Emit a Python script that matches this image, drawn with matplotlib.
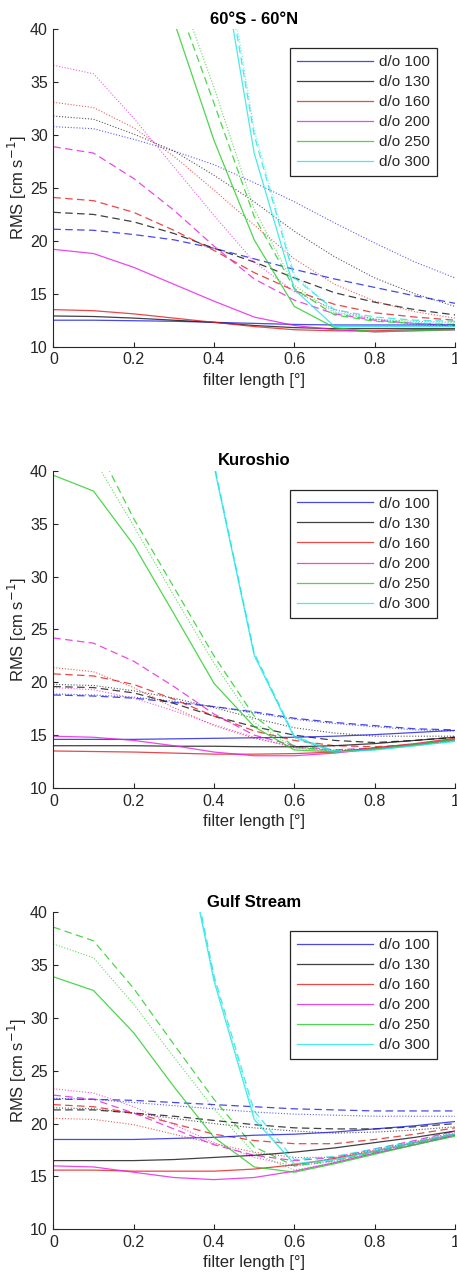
import matplotlib

matplotlib.use("Agg")
import matplotlib.pyplot as plt
import numpy as np

plt.rcParams["font.family"] = ["Liberation Sans", "DejaVu Sans"]

filter_len = [0.0, 0.1, 0.2, 0.3, 0.4, 0.5, 0.6, 0.7, 0.8, 0.9, 1.0]
degrees = ["d/o 100", "d/o 130", "d/o 160", "d/o 200", "d/o 250", "d/o 300"]
titles = ["60°S - 60°N", "Kuroshio", "Gulf Stream"]

# rows follow `degrees`; values above 40 run off the top of the axes
glob_solid = [
    [12.5, 12.5, 12.45, 12.4, 12.3, 12.2, 12.1, 12.05, 12.05, 12.05, 12.05],
    [12.9, 12.85, 12.7, 12.5, 12.3, 12.0, 11.8, 11.7, 11.7, 11.7, 11.7],
    [13.5, 13.4, 13.1, 12.7, 12.3, 11.9, 11.6, 11.5, 11.5, 11.6, 11.6],
    [19.2, 18.8, 17.5, 15.9, 14.3, 12.8, 12.0, 11.6, 11.4, 11.5, 11.6],
    [78.0, 63.0, 51.5, 40.8, 29.5, 20.1, 13.8, 11.8, 11.4, 11.5, 11.6],
    [95.0, 82.0, 68.0, 62.0, 50.8, 28.3, 15.4, 11.9, 11.9, 11.9, 11.9],
]
glob_dashed = [
    [21.1, 21.0, 20.6, 20.1, 19.3, 18.3, 17.3, 16.4, 15.6, 14.8, 14.1],
    [22.7, 22.5, 21.8, 20.7, 19.3, 18.0, 16.5, 15.1, 14.2, 13.5, 13.0],
    [24.1, 23.8, 22.7, 21.0, 19.1, 17.0, 15.3, 14.0, 13.2, 12.8, 12.5],
    [28.9, 28.3, 25.9, 22.9, 19.5, 16.4, 14.4, 13.1, 12.5, 12.2, 12.0],
    [80.0, 66.0, 54.0, 43.5, 33.0, 22.3, 15.5, 13.0, 12.4, 12.2, 12.1],
    [97.0, 84.0, 70.0, 63.0, 52.2, 30.0, 16.5, 13.5, 12.8, 12.5, 12.4],
]
glob_dotted = [
    [30.8, 30.6, 29.6, 28.5, 27.2, 25.5, 23.7, 21.7, 19.8, 18.0, 16.5],
    [31.8, 31.5, 30.1, 28.5, 26.2, 23.7, 20.9, 18.5, 16.5, 15.0, 13.8],
    [33.1, 32.6, 30.7, 28.0, 24.8, 21.5, 18.3, 15.9, 14.3, 13.3, 12.7],
    [36.6, 35.8, 31.6, 27.0, 22.4, 18.0, 15.2, 13.5, 12.6, 12.1, 11.9],
    [82.0, 68.0, 56.0, 45.0, 34.5, 23.0, 15.8, 13.2, 12.6, 12.4, 12.3],
    [98.0, 85.0, 71.0, 64.0, 53.5, 30.5, 16.8, 13.3, 12.6, 12.3, 12.2],
]

kuro_solid = [
    [14.6, 14.6, 14.6, 14.65, 14.7, 14.75, 14.8, 14.9, 15.05, 15.25, 15.45],
    [14.0, 14.0, 14.0, 13.95, 13.95, 13.9, 13.9, 14.0, 14.2, 14.5, 14.8],
    [13.5, 13.45, 13.4, 13.3, 13.2, 13.2, 13.25, 13.4, 13.8, 14.2, 14.7],
    [14.9, 14.8, 14.5, 14.0, 13.4, 13.05, 13.05, 13.3, 13.7, 14.1, 14.6],
    [39.6, 38.1, 33.0, 26.5, 19.9, 15.8, 13.6, 13.4, 13.7, 14.1, 14.6],
    [80.0, 68.0, 57.0, 48.0, 40.5, 22.6, 14.8, 13.4, 13.6, 14.0, 14.4],
]
kuro_dashed = [
    [18.8, 18.7, 18.5, 18.1, 17.7, 17.2, 16.6, 16.2, 15.9, 15.6, 15.5],
    [19.6, 19.5, 19.0, 18.0, 16.8, 15.8, 15.0, 14.5, 14.3, 14.5, 14.8],
    [20.8, 20.6, 19.8, 18.4, 16.8, 15.4, 14.5, 14.0, 13.9, 14.1, 14.6],
    [24.2, 23.7, 22.0, 19.6, 17.0, 15.0, 14.0, 13.6, 13.8, 14.1, 14.5],
    [48.0, 43.0, 35.5, 29.0, 22.5, 16.8, 13.9, 13.5, 13.7, 14.1, 14.6],
    [81.0, 69.0, 58.0, 48.5, 40.7, 22.8, 14.9, 13.5, 13.7, 14.1, 14.5],
]
kuro_dotted = [
    [18.9, 18.8, 18.6, 18.2, 17.7, 17.1, 16.5, 16.1, 15.8, 15.5, 15.4],
    [19.8, 19.7, 19.2, 18.5, 17.6, 16.6, 15.7, 15.2, 14.9, 14.9, 14.9],
    [21.4, 21.0, 19.5, 17.6, 15.9, 14.7, 13.9, 13.6, 13.7, 14.0, 14.5],
    [19.5, 19.3, 18.5, 17.3, 16.0, 14.8, 13.8, 13.5, 13.7, 14.1, 14.5],
    [46.0, 41.2, 34.8, 28.2, 21.8, 16.2, 13.8, 13.4, 13.6, 14.0, 14.5],
    [80.5, 68.5, 57.5, 48.2, 40.4, 22.5, 14.7, 13.4, 13.6, 14.0, 14.4],
]

gulf_solid = [
    [18.5, 18.5, 18.5, 18.6, 18.7, 18.9, 19.0, 19.2, 19.5, 19.8, 20.2],
    [16.5, 16.5, 16.5, 16.6, 16.8, 17.0, 17.3, 17.7, 18.2, 18.7, 19.3],
    [15.6, 15.6, 15.5, 15.5, 15.5, 15.7, 16.1, 16.7, 17.4, 18.2, 19.0],
    [16.0, 15.9, 15.4, 14.9, 14.7, 14.9, 15.5, 16.3, 17.2, 18.0, 18.9],
    [33.9, 32.6, 28.6, 23.5, 18.7, 15.9, 15.4, 16.2, 17.1, 18.0, 18.8],
    [80.0, 70.0, 61.0, 52.0, 33.5, 20.4, 16.2, 16.6, 17.4, 18.2, 19.0],
]
gulf_dashed = [
    [22.3, 22.3, 22.2, 22.0, 21.8, 21.6, 21.4, 21.3, 21.2, 21.2, 21.2],
    [21.3, 21.3, 21.0, 20.7, 20.3, 19.9, 19.6, 19.5, 19.5, 19.7, 20.0],
    [21.8, 21.6, 21.0, 20.0, 19.0, 18.4, 18.1, 18.1, 18.5, 19.0, 19.6],
    [22.7, 22.3, 21.0, 19.5, 18.0, 17.0, 16.5, 16.8, 17.6, 18.4, 19.3],
    [38.6, 37.3, 32.8, 27.5, 22.3, 17.8, 16.0, 16.5, 17.3, 18.1, 18.9],
    [81.0, 71.0, 62.0, 52.5, 34.0, 21.2, 16.6, 16.9, 17.6, 18.3, 19.1],
]
gulf_dotted = [
    [22.4, 22.3, 22.0, 21.7, 21.4, 21.1, 20.9, 20.8, 20.7, 20.7, 20.7],
    [21.5, 21.4, 21.0, 20.5, 20.0, 19.6, 19.3, 19.1, 19.2, 19.4, 19.7],
    [20.5, 20.4, 19.9, 19.0, 18.1, 17.3, 16.8, 16.8, 17.5, 18.3, 19.2],
    [23.3, 22.9, 21.6, 19.9, 18.2, 16.8, 16.0, 16.4, 17.3, 18.2, 19.1],
    [37.0, 35.7, 31.3, 26.3, 21.4, 17.2, 15.6, 16.3, 17.2, 18.0, 18.9],
    [80.5, 70.5, 61.5, 52.3, 33.8, 20.8, 16.0, 16.5, 17.3, 18.1, 19.0],
]

line_colors = ["#1a1ae6", "#111111", "#e61a1a", "#e61ae6", "#22cc22", "#1ae6e6"]
axis_color = "#262626"

panels = [
    (glob_solid, glob_dashed, glob_dotted),
    (kuro_solid, kuro_dashed, kuro_dotted),
    (gulf_solid, gulf_dashed, gulf_dotted),
]
axes_rects = [
    [0.1167, 0.7279, 0.879, 0.2491],
    [0.1167, 0.3815, 0.879, 0.2488],
    [0.1167, 0.0351, 0.879, 0.2488],
]

fig = plt.figure(figsize=(4.57, 12.74), dpi=100)
for title, (solid, dashed, dotted), rect in zip(titles, panels, axes_rects):
    ax = fig.add_axes(rect)
    x = np.array(filter_len)
    for i, color in enumerate(line_colors):
        ax.plot(x, dotted[i], color=color, lw=0.8, ls=(0, (1, 1.6)), alpha=0.7)
        ax.plot(x, dashed[i], color=color, lw=0.9, ls=(0, (6, 3.5)), alpha=0.8)
    for i, color in enumerate(line_colors):
        ax.plot(x, solid[i], color=color, lw=0.9, alpha=0.8, label=degrees[i])
    ax.set_xlim(0, 1)
    ax.set_ylim(10, 40)
    ax.set_xticks([0, 0.2, 0.4, 0.6, 0.8, 1])
    ax.set_xticklabels(["0", "0.2", "0.4", "0.6", "0.8", "1"])
    ax.set_yticks([10, 15, 20, 25, 30, 35, 40])
    ax.spines["top"].set_visible(False)
    ax.spines["right"].set_visible(False)
    for side in ["left", "bottom"]:
        ax.spines[side].set_color(axis_color)
        ax.spines[side].set_linewidth(0.8)
    ax.tick_params(direction="in", length=3.5, width=0.8, colors=axis_color,
                   labelsize=11.5, pad=4)
    ax.set_title(title, fontsize=12, fontweight="bold", pad=4)
    ax.set_xlabel("filter length [°]", fontsize=12, color=axis_color, labelpad=4)
    ax.set_ylabel("RMS [cm s$^{-1}$]", fontsize=12, color=axis_color, labelpad=1)
    leg = ax.legend(loc="upper right", bbox_to_anchor=(0.955, 0.941),
                    borderaxespad=0, fontsize=11, handlelength=5.0,
                    handletextpad=0.4, labelspacing=0.4, borderpad=0.45,
                    fancybox=False, framealpha=1)
    leg.get_frame().set_edgecolor(axis_color)
    leg.get_frame().set_linewidth(0.9)
    for text in leg.get_texts():
        text.set_color(axis_color)

fig.savefig("out.png", dpi=100)
